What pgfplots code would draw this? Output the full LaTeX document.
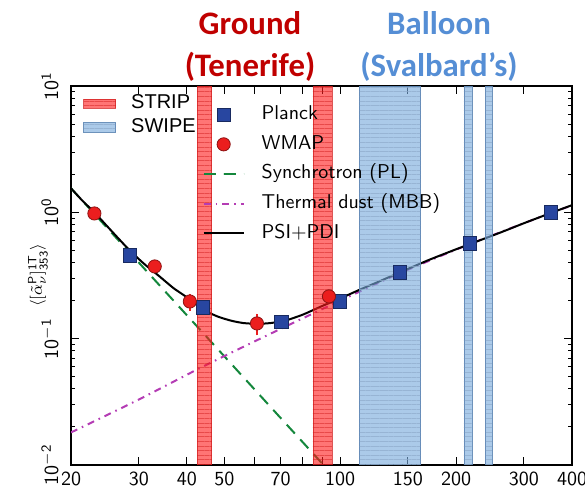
\documentclass[border=0pt]{standalone}
\usepackage{fontspec}
\usepackage{pgfplots}
\pgfplotsset{compat=1.18}
\usetikzlibrary{patterns.meta}
\newfontfamily\titlefont{Carlito}
\newfontfamily\arialfont{Liberation Sans}

\definecolor{stripred}{RGB}{255,25,25}
\definecolor{stripline}{RGB}{210,30,30}
\definecolor{swipeblue}{RGB}{120,170,220}
\definecolor{swipeline}{RGB}{95,135,180}
\definecolor{planckblue}{RGB}{40,70,160}
\definecolor{wmapred}{RGB}{235,30,30}
\definecolor{syncgreen}{RGB}{20,135,60}
\definecolor{dustmag}{RGB}{180,60,180}
\definecolor{groundred}{RGB}{192,0,0}
\definecolor{balloonblue}{RGB}{85,142,213}

\pgfplotsset{
  stripband/.style={fill=stripred, fill opacity=0.6, draw=stripline, draw opacity=0.5,
    postaction={pattern={Lines[angle=0,distance=2.3pt,line width=0.35pt]}, pattern color=stripline}},
  swipeband/.style={fill=swipeblue, fill opacity=0.62, draw=swipeline, draw opacity=0.7,
    postaction={pattern={Lines[angle=0,distance=2.3pt,line width=0.3pt]}, pattern color=swipeline!70}},
}

\begin{document}
\begin{tikzpicture}
\useasboundingbox (-35.5pt,-13.5pt) rectangle (257pt,232.5pt);

\begin{axis}[
    at={(0pt,0pt)}, anchor=south west,
    scale only axis,
    width=250.5pt, height=189.5pt,
    xmode=log, ymode=log,
    xmin=20, xmax=400, ymin=1e-2, ymax=1e1,
    xtick={20,30,40,50,60,70,80,90,100,150,200,300,400},
    xticklabels={20,30,40,50,,70,,,100,150,200,300,400},
    minor xtick={},
    ytick={1e-2,1e-1,1,10},
    yticklabels={$\mathsf{10^{-2}}$,$\mathsf{10^{-1}}$,$\mathsf{10^{0}}$,$\mathsf{10^{1}}$},
    minor ytick={2e-2,3e-2,4e-2,5e-2,6e-2,7e-2,8e-2,9e-2,
                 0.2,0.3,0.4,0.5,0.6,0.7,0.8,0.9,2,3,4,5,6,7,8,9},
    tick align=inside,
    major tick length=4pt, minor tick length=2pt,
    every tick/.style={black, line width=0.5pt},
    axis line style={line width=1.1pt},
    ticklabel style={font=\sffamily\fontsize{10}{12}\selectfont},
    xticklabel style={anchor=center, yshift=-7pt},
    yticklabel style={rotate=90, anchor=center, yshift=10.5pt},
    ylabel={$\langle[\tilde{\alpha}^{\mathsf{P}}_{\nu}]^{\mathsf{1T}}_{\mathsf{353}}\rangle$},
    ylabel style={at={(axis description cs:-0.066,0.5)}, anchor=center, font=\fontsize{8}{9}\selectfont},
    legend cell align=left,
    legend style={at={(0.262,0.949)}, anchor=north west, draw=none, fill=none,
      font=\sffamily\fontsize{10}{12}\selectfont,
      nodes={inner sep=0pt, text height=7pt, text depth=2pt},
      row sep=5.8pt, column sep=8.5pt, inner sep=0pt},
    legend image code/.code={\draw[mark repeat=2,mark phase=2,#1] plot coordinates {(0pt,0pt) (10pt,0pt) (20pt,0pt)};},
]

% legend entries in the order of the reference
\addlegendimage{only marks, mark=square*, mark size=3.3pt, fill=planckblue, draw=planckblue!60!black}
\addlegendentry{Planck}
\addlegendimage{only marks, mark=*, mark size=3.3pt, fill=wmapred, draw=wmapred!60!black}
\addlegendentry{WMAP}
\addlegendimage{syncgreen, line width=1pt, dash pattern=on 6pt off 4pt}
\addlegendentry{Synchrotron (PL)}
\addlegendimage{dustmag, line width=1pt, dash pattern=on 3.5pt off 2.5pt on 0.8pt off 2.5pt}
\addlegendentry{Thermal dust (MBB)}
\addlegendimage{black, line width=1pt}
\addlegendentry{PSI$+$PDI}

% synchrotron power law
\addplot[forget plot, syncgreen, line width=1pt, dash pattern=on 6pt off 4pt]
  coordinates {(20,1.55) (90,0.0102)};

% thermal dust (MBB)
\addplot[forget plot, dustmag, line width=1pt, dash pattern=on 3.5pt off 2.5pt on 0.8pt off 2.5pt, smooth]
  coordinates {(20,0.0181) (30,0.033) (43,0.058) (62,0.100) (80,0.145) (100,0.200)
               (143,0.330) (217,0.560) (353,0.990) (400,1.13)};

% PSI+PDI total model
\addplot[forget plot, black, line width=1pt, smooth, tension=0.4]
  coordinates {(20,1.55) (21.5,1.22) (23,1.0) (25.5,0.71) (28.4,0.50) (31,0.39)
               (34,0.31) (37,0.25) (40.7,0.205) (44,0.170) (48,0.150) (52,0.139)
               (56,0.133) (61,0.131) (66,0.133) (72,0.139) (80,0.155) (90,0.182)
               (100,0.208) (112,0.243) (125,0.28) (143,0.335) (170,0.42) (200,0.51)
               (217,0.56) (260,0.69) (300,0.82) (353,0.99) (400,1.14)};

% Planck
\addplot[forget plot, only marks, mark=square*, mark size=3.3pt, fill=planckblue, draw=planckblue!60!black]
  coordinates {(28.4,0.457) (44.1,0.177) (70.4,0.135) (100,0.197) (143,0.335) (217,0.568) (353,1.0)};

% WMAP
\addplot[forget plot, only marks, mark=*, mark size=3.3pt, fill=wmapred, draw=wmapred!60!black,
  error bars/.cd, y dir=both, y explicit, error bar style={wmapred, line width=0.8pt}, error mark=none]
  coordinates {(23,0.98) +- (0,0.03) (33,0.373) +- (0,0.02) (40.7,0.197) +- (0,0.03)
               (60.8,0.132) +- (0,0.026) (93.5,0.216) +- (0,0.02)};

% STRIP bands (ground)
\addplot[forget plot, stripband] coordinates {(42.5,1e-2) (42.5,10) (46.4,10) (46.4,1e-2)} -- cycle;
\addplot[forget plot, stripband] coordinates {(85,1e-2) (85,10) (95.2,10) (95.2,1e-2)} -- cycle;
% SWIPE bands (balloon)
\addplot[forget plot, swipeband] coordinates {(112,1e-2) (112,10) (162,10) (162,1e-2)} -- cycle;
\addplot[forget plot, swipeband] coordinates {(209.6,1e-2) (209.6,10) (219.9,10) (219.9,1e-2)} -- cycle;
\addplot[forget plot, swipeband] coordinates {(237.8,1e-2) (237.8,10) (247.9,10) (247.9,1e-2)} -- cycle;
\end{axis}

% second legend for the bands
\begin{axis}[
    at={(0pt,0pt)}, anchor=south west,
    scale only axis, width=250.5pt, height=189.5pt,
    hide axis, xmin=0, xmax=1, ymin=0, ymax=1,
    legend cell align=left,
    legend style={at={(0.024,0.978)}, anchor=north west, draw=none, fill=none,
      font=\arialfont\fontsize{10}{12}\selectfont,
      nodes={inner sep=0pt, text height=7pt, text depth=2pt},
      row sep=2.8pt, column sep=7.5pt, inner sep=0pt},
    legend image code/.code={\draw[#1] (0pt,-2.3pt) rectangle (16pt,2.3pt);},
]
\addlegendimage{stripband}
\addlegendentry{STRIP}
\addlegendimage{swipeband}
\addlegendentry{SWIPE}
\end{axis}

\node[anchor=base, text=groundred, font=\titlefont\bfseries\fontsize{16.4}{18}\selectfont] at (89.5pt,215.3pt) {Ground};
\node[anchor=base, text=groundred, font=\titlefont\bfseries\fontsize{16.4}{18}\selectfont] at (89.5pt,194.1pt) {(Tenerife)};
\node[anchor=base, text=balloonblue, font=\titlefont\bfseries\fontsize{16.4}{18}\selectfont] at (184pt,215.3pt) {Balloon};
\node[anchor=base, text=balloonblue, font=\titlefont\bfseries\fontsize{16.4}{18}\selectfont] at (184pt,194.1pt) {(Svalbard’s)};
\end{tikzpicture}
\end{document}
